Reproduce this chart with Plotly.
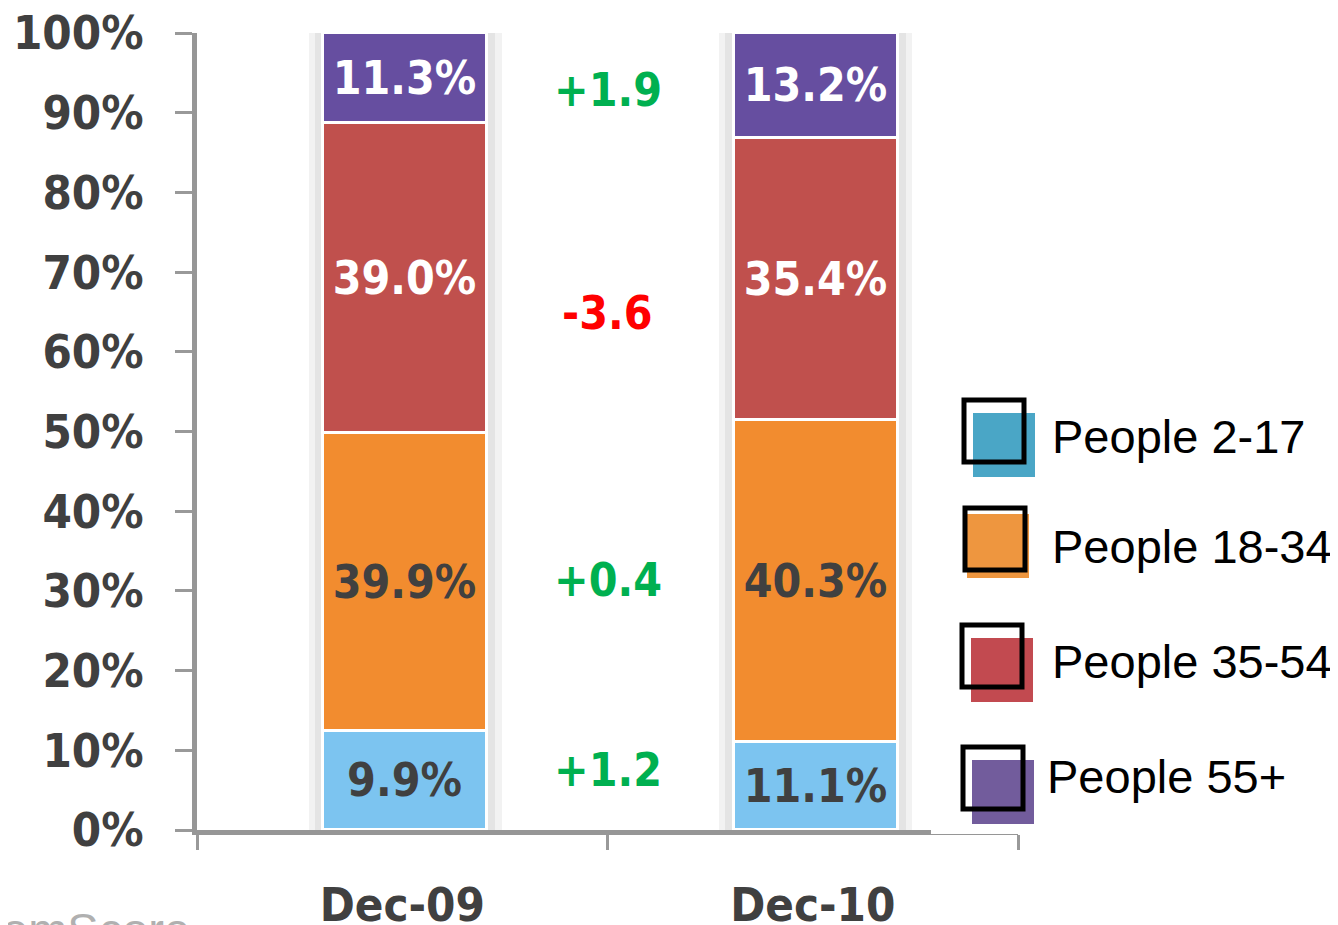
import numpy as np
import plotly.graph_objects as go

# ---------------- data ----------------
periods = ["Dec-09", "Dec-10"]
groups = ["People 2-17", "People 18-34", "People 35-54", "People 55+"]
# segment heights as drawn (bottom to top)
seg_2_17 = [12.4, 11.1]
seg_18_34 = [37.4, 40.3]
seg_35_54 = [38.9, 35.4]
seg_55p = [11.3, 13.2]
# printed labels
lab_2_17 = ["9.9%", "11.1%"]
lab_18_34 = ["39.9%", "40.3%"]
lab_35_54 = ["39.0%", "35.4%"]
lab_55p = ["11.3%", "13.2%"]
# change annotations (bottom to top)
changes = ["+1.2", "+0.4", "-3.6", "+1.9"]
change_y = [7.5, 31.4, 64.9, 92.8]
y_ticks = [0, 10, 20, 30, 40, 50, 60, 70, 80, 90, 100]
y_tick_text = [f"{v}%" for v in y_ticks]

# ---------------- styles ----------------
bar_colors = ["#7CC4F0", "#F28C2F", "#C0504D", "#664EA0"]
legend_colors = ["#4AA6C6", "#EE963F", "#C24A50", "#725C9C"]
label_colors = ["#404040", "#404040", "#FFFFFF", "#FFFFFF"]
change_colors = ["#00B050", "#00B050", "#FF0000", "#00B050"]
FONT_B = "DejaVu Sans Condensed"

# page has an 8px body margin: the figure is shifted accordingly
OFF = 8
W, H = 1338 - OFF, 925 - OFF
L, T = 197 - OFF, 33 - OFF
R = W - (1018 - OFF)
B = H - (830 - OFF)
PW, PH = W - L - R, H - T - B


def px(xp):  # page pixel -> paper x
    return (xp - OFF - L) / PW


def py(yp):  # page pixel -> paper y
    return (H - B - (yp - OFF)) / PH


segments = [seg_2_17, seg_18_34, seg_35_54, seg_55p]
labels = [lab_2_17, lab_18_34, lab_35_54, lab_55p]
bases = np.vstack([np.zeros(2), np.cumsum(np.array(segments), axis=0)[:-1]])

BAR_W = 0.40
SHIFT = 0.007

fig = go.Figure()

# soft grey shadow behind each column
for wdt, col in [(0.47, "#F2F2F2"), (0.44, "#E4E4E4")]:
    fig.add_trace(go.Bar(x=periods, y=[100, 100], base=[0, 0], width=wdt,
                         offset=-wdt / 2 + SHIFT,
                         marker=dict(color=col, line=dict(width=0)),
                         hoverinfo="skip", showlegend=False))

for i, g in enumerate(groups):
    fig.add_trace(go.Bar(
        x=periods, y=segments[i], base=bases[i], width=BAR_W, offset=-BAR_W / 2 + SHIFT,
        name=g,
        marker=dict(color=bar_colors[i], line=dict(color="white", width=3)),
        text=labels[i], textposition="inside", insidetextanchor="middle",
        textangle=0,
        textfont=dict(family=FONT_B, size=46, color=label_colors[i], weight="bold"),
        showlegend=False,
    ))

# change annotations between the columns
for c, yv, col in zip(changes, change_y, change_colors):
    fig.add_annotation(x=0.5, y=yv, xref="x", yref="y", text=c, showarrow=False,
                       font=dict(family=FONT_B, size=46, color=col, weight="bold"),
                       xanchor="center", yanchor="middle")

shapes = []
# hide the right end of the x axis line (as in the reference)
shapes.append(dict(type="rect", xref="paper", yref="paper",
                   x0=px(931), x1=px(1040), y0=py(834), y1=py(823),
                   fillcolor="white", line=dict(width=0), layer="above"))

# custom legend
frames_top = [398, 506, 623, 745]
frame_left = [962, 963, 960, 961]
text_left = [1050, 1050, 1050, 1045]
text_mid = [436, 546, 661, 776]
for i, g in enumerate(groups):
    x0, y0 = frame_left[i], frames_top[i]
    off = 2 if i == 1 else 9
    shapes.append(dict(type="rect", xref="paper", yref="paper",
                       x0=px(x0 + off + 2), x1=px(x0 + 64 + off), y0=py(y0 + 66 + off + 4),
                       y1=py(y0 + off + 6), fillcolor=legend_colors[i],
                       line=dict(width=0), layer="above"))
    shapes.append(dict(type="rect", xref="paper", yref="paper",
                       x0=px(x0 + 2), x1=px(x0 + 62), y0=py(y0 + 64), y1=py(y0 + 2),
                       fillcolor="rgba(255,255,255,0)",
                       line=dict(color="black", width=5), layer="above"))
    fig.add_annotation(x=px(text_left[i]), y=py(text_mid[i]), xref="paper", yref="paper",
                       text=g, showarrow=False, xanchor="left", yanchor="middle",
                       font=dict(family="Liberation Sans, Arial", size=47, color="black"))

# cut-off source text bottom-left
fig.add_annotation(x=px(0), y=py(901), xref="paper", yref="paper", text="omScore",
                   showarrow=False, xanchor="left", yanchor="top",
                   font=dict(family="Liberation Sans, Arial", size=47, color="#B0B0B0"))

fig.update_layout(
    width=W, height=H, margin=dict(l=L, r=R, t=T, b=B, autoexpand=False),
    paper_bgcolor="white", plot_bgcolor="white",
    barmode="overlay", bargap=0, showlegend=False,
    shapes=shapes,
    xaxis=dict(type="category", range=[-0.5, 1.5], tickson="boundaries",
               ticks="outside", ticklen=15, tickwidth=3, tickcolor="#999999",
               showline=True, linewidth=5, linecolor="#969696",
               showgrid=False, zeroline=False, ticklabelstandoff=30,
               ticklabeloverflow="allow",
               tickfont=dict(family=FONT_B, size=47, color="#404040", weight="bold")),
    yaxis=dict(range=[0, 100], tickmode="array", tickvals=y_ticks, ticktext=y_tick_text,
               ticks="outside", ticklen=17, tickwidth=3, tickcolor="#999999",
               showline=True, linewidth=5, linecolor="#969696",
               showgrid=False, zeroline=False, ticklabelstandoff=22,
               ticklabeloverflow="allow",
               tickfont=dict(family=FONT_B, size=47, color="#404040", weight="bold")),
    uniformtext=dict(minsize=46, mode="show"),
)

fig.write_html("out.html")
